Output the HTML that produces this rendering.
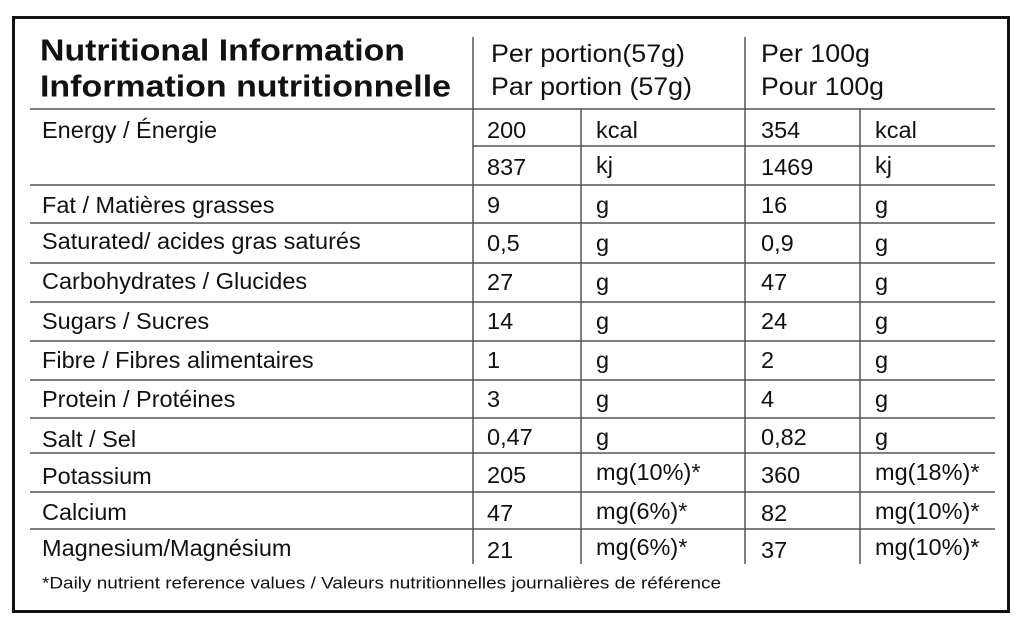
<!DOCTYPE html>
<html><head><meta charset="utf-8"><style>
html,body{margin:0;padding:0;background:#fff;}
svg{display:block;}
text{font-family:"Liberation Sans",Arial,sans-serif;fill:#111;}
.b{font-size:23.5px;}
</style></head><body>
<svg width="1024" height="627" viewBox="0 0 1024 627" xmlns="http://www.w3.org/2000/svg">
<rect x="13.5" y="17.5" width="995" height="594" fill="none" stroke="#111" stroke-width="3"/>
<g stroke="#555" stroke-width="1.5">
<line x1="30" y1="109" x2="995" y2="109"/>
<line x1="473" y1="146" x2="995" y2="146"/>
<line x1="30" y1="185" x2="995" y2="185"/>
<line x1="30" y1="223" x2="995" y2="223"/>
<line x1="30" y1="263" x2="995" y2="263"/>
<line x1="30" y1="302" x2="995" y2="302"/>
<line x1="30" y1="341" x2="995" y2="341"/>
<line x1="30" y1="380" x2="995" y2="380"/>
<line x1="30" y1="418" x2="995" y2="418"/>
<line x1="30" y1="453" x2="995" y2="453"/>
<line x1="30" y1="492" x2="995" y2="492"/>
<line x1="30" y1="529" x2="995" y2="529"/>
<line x1="473" y1="37" x2="473" y2="564"/>
<line x1="745" y1="37" x2="745" y2="564"/>
<line x1="581" y1="109" x2="581" y2="564"/>
<line x1="860" y1="109" x2="860" y2="564"/>
</g>
<g font-weight="bold" font-size="31" dominant-baseline="central">
<text x="40" y="50" textLength="365" lengthAdjust="spacingAndGlyphs">Nutritional Information</text>
<text x="40" y="86" textLength="411" lengthAdjust="spacingAndGlyphs">Information nutritionnelle</text>
</g>
<g font-size="25" dominant-baseline="central">
<text x="491" y="54" textLength="194" lengthAdjust="spacingAndGlyphs">Per portion(57g)</text>
<text x="491" y="87" textLength="201" lengthAdjust="spacingAndGlyphs">Par portion (57g)</text>
<text x="761" y="54" textLength="109" lengthAdjust="spacingAndGlyphs">Per 100g</text>
<text x="761" y="87" textLength="123" lengthAdjust="spacingAndGlyphs">Pour 100g</text>
</g>
<g class="b" dominant-baseline="central">
<text x="42" y="130">Energy / Énergie</text>
<text x="487" y="130">200</text><text x="596" y="130">kcal</text><text x="761" y="130">354</text><text x="875" y="130">kcal</text>
<text x="487" y="167">837</text><text x="596" y="165">kj</text><text x="761" y="167">1469</text><text x="875" y="165">kj</text>
<text x="42" y="205">Fat / Matières grasses</text>
<text x="487" y="205">9</text><text x="596" y="205">g</text><text x="761" y="205">16</text><text x="875" y="205">g</text>
<text x="42" y="241">Saturated/ acides gras saturés</text>
<text x="487" y="243">0,5</text><text x="596" y="243">g</text><text x="761" y="243">0,9</text><text x="875" y="243">g</text>
<text x="42" y="281">Carbohydrates / Glucides</text>
<text x="487" y="282">27</text><text x="596" y="282">g</text><text x="761" y="282">47</text><text x="875" y="282">g</text>
<text x="42" y="321">Sugars / Sucres</text>
<text x="487" y="321">14</text><text x="596" y="321">g</text><text x="761" y="321">24</text><text x="875" y="321">g</text>
<text x="42" y="360">Fibre / Fibres alimentaires</text>
<text x="487" y="360">1</text><text x="596" y="360">g</text><text x="761" y="360">2</text><text x="875" y="360">g</text>
<text x="42" y="399">Protein / Protéines</text>
<text x="487" y="399">3</text><text x="596" y="399">g</text><text x="761" y="399">4</text><text x="875" y="399">g</text>
<text x="42" y="439">Salt / Sel</text>
<text x="487" y="437">0,47</text><text x="596" y="437">g</text><text x="761" y="437">0,82</text><text x="875" y="437">g</text>
<text x="42" y="476">Potassium</text>
<text x="487" y="475">205</text><text x="596" y="472">mg(10%)*</text><text x="761" y="475">360</text><text x="875" y="472">mg(18%)*</text>
<text x="42" y="512">Calcium</text>
<text x="487" y="513">47</text><text x="596" y="511">mg(6%)*</text><text x="761" y="513">82</text><text x="875" y="511">mg(10%)*</text>
<text x="42" y="548">Magnesium/Magnésium</text>
<text x="487" y="550">21</text><text x="596" y="547">mg(6%)*</text><text x="761" y="550">37</text><text x="875" y="547">mg(10%)*</text>
</g>
<text x="42" y="583" font-size="17" dominant-baseline="central" textLength="679" lengthAdjust="spacingAndGlyphs">*Daily nutrient reference values / Valeurs nutritionnelles journalières de référence</text>
</svg>
</body></html>
